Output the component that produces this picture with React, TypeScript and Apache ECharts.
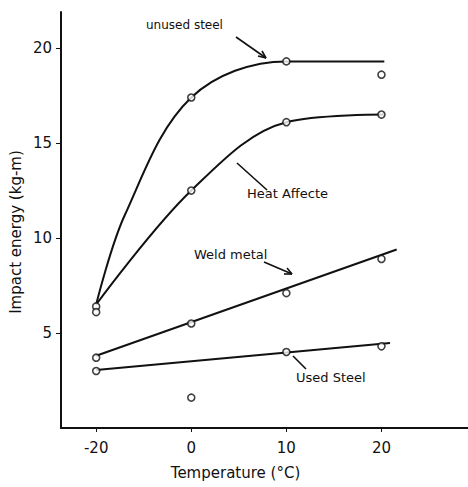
import React, { useEffect, useRef } from "react";
import * as echarts from "echarts";

// Temperature categories (drawn at equal spacing on the original chart)
const temperatures = ["-20", "0", "10", "20"];
const tempPos = [0, 1, 2, 3];

// Measured impact energies (kg-m)
const unusedSteel = [6.4, 17.4, 19.3, 18.6];
const heatAffected = [6.1, 12.5, 16.1, 16.5];
const weldMetal = [3.7, 5.5, 7.1, 8.9];
const usedSteel = [3.0, 1.6, 4.0, 4.3];

// Hand-drawn fit curves: [position, energy]
const unusedFit = [[0, 6.5], [0.3, 11.2], [1, 17.4], [2, 19.3], [3.03, 19.3]];
const heatFit = [[0, 6.5], [1, 12.5], [2, 16.1], [3.03, 16.5]];
const weldFit = [[0, 3.8], [3.16, 9.4]];
const usedFit = [[0, 3.05], [3.09, 4.47]];

const yTicks = [5, 10, 15, 20];

const FONT = "DejaVu Sans";

export default function App() {
  const ref = useRef<HTMLDivElement>(null);
  useEffect(() => {
    if (!ref.current) return;
    document.body.style.margin = "0";
    const chart = echarts.init(ref.current, undefined, { renderer: "svg" });
    const pts = (vals: number[]) => vals.map((v, i) => [tempPos[i], v]);
    const lineSeries = (data: number[][], smooth: number | false) => ({
      type: "line",
      data,
      smooth,
      showSymbol: false,
      symbol: "none",
      lineStyle: { color: "#111", width: 2 },
      z: 2,
    });
    const scatterSeries = (data: number[][]) => ({
      type: "scatter",
      data,
      symbol: "circle",
      symbolSize: 7,
      itemStyle: { color: "#fff", borderColor: "#111", borderWidth: 1.6 },
      z: 3,
    });
    const txt = (text: string, x: number, y: number, size = 13) => ({
      type: "text",
      x,
      y,
      style: { text, fill: "#111", font: `${size}px "${FONT}"`, textVerticalAlign: "middle" },
    });
    const ln = (x1: number, y1: number, x2: number, y2: number) => ({
      type: "line",
      shape: { x1, y1, x2, y2 },
      style: { stroke: "#111", lineWidth: 1.6 },
    });
    chart.setOption({
      animation: false,
      backgroundColor: "#fff",
      grid: { left: 61, right: 0, top: 12, bottom: 59 },
      xAxis: {
        type: "value",
        min: -0.37,
        max: 3.91,
        name: "Temperature (°C)",
        nameLocation: "middle",
        nameGap: 37,
        nameTextStyle: { color: "#111", fontFamily: FONT, fontSize: 15, padding: [0, 0, 0, -58] },
        axisLine: { show: true, onZero: false, lineStyle: { color: "#111", width: 2 } },
        axisTick: { show: true, customValues: tempPos, length: 4, lineStyle: { color: "#111" } },
        axisLabel: {
          customValues: tempPos,
          formatter: (v: number) => temperatures[Math.round(v)] ?? "",
          color: "#111",
          fontFamily: FONT,
          fontSize: 15,
          margin: 12,
        },
        splitLine: { show: false },
      },
      yAxis: {
        type: "value",
        min: 0,
        max: 21.9,
        axisLine: { show: true, onZero: false, lineStyle: { color: "#111", width: 2 } },
        axisTick: { show: true, customValues: yTicks, length: 5, lineStyle: { color: "#111" } },
        axisLabel: {
          customValues: yTicks,
          color: "#111",
          fontFamily: FONT,
          fontSize: 15,
          margin: 9,
        },
        splitLine: { show: false },
      },
      series: [
        lineSeries(unusedFit, 0.35),
        lineSeries(heatFit, 0.35),
        lineSeries(weldFit, false),
        lineSeries(usedFit, false),
        scatterSeries(pts(unusedSteel)),
        scatterSeries(pts(heatAffected)),
        scatterSeries(pts(weldMetal)),
        scatterSeries(pts(usedSteel)),
      ],
      graphic: [
        {
          type: "text",
          x: 16,
          y: 232,
          rotation: Math.PI / 2,
          style: {
            text: "Impact energy (kg-m)",
            fill: "#111",
            font: `15px "${FONT}"`,
            textAlign: "center",
            textVerticalAlign: "middle",
          },
        },
        txt("unused steel", 146, 25, 12),
        ln(236, 37, 266, 58),
        ln(266, 58, 258, 56),
        ln(266, 58, 262, 51),
        txt("Heat Affecte", 247, 193, 13),
        ln(237, 163, 267, 190),
        txt("Weld metal", 194, 254, 13),
        ln(264, 262, 292, 274),
        ln(292, 274, 284, 274),
        ln(292, 274, 287, 268),
        txt("Used Steel", 296, 377, 13),
        ln(293, 356, 306, 369),
      ],
    });
    return () => chart.dispose();
  }, []);
  return <div ref={ref} style={{ width: 468, height: 487 }} />;
}
